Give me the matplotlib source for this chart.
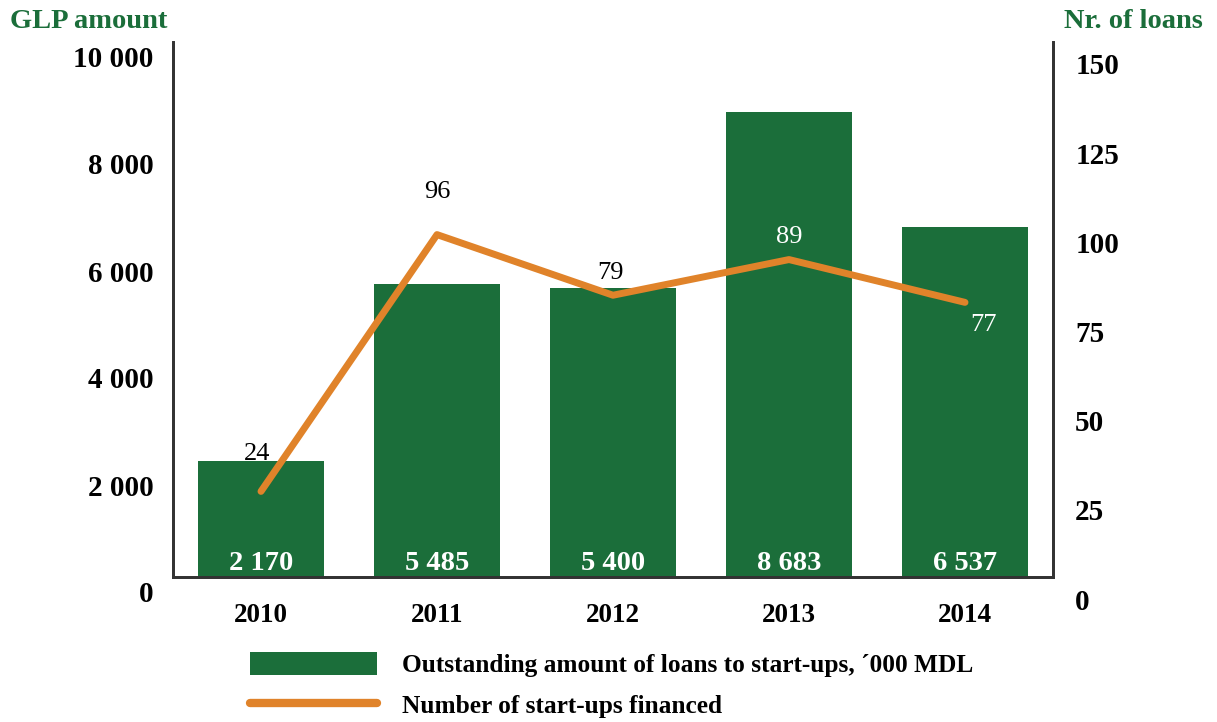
import matplotlib
matplotlib.use("Agg")
import matplotlib.pyplot as plt
from matplotlib.patches import Patch
from matplotlib.lines import Line2D
from matplotlib.transforms import ScaledTranslation

years = ["2010", "2011", "2012", "2013", "2014"]
glp_amount = [2170, 5485, 5400, 8683, 6537]
n_startups = [24, 96, 79, 89, 77]
left_ticks = [0, 2000, 4000, 6000, 8000, 10000]
left_tick_labels = ["0", "2 000", "4 000", "6 000", "8 000", "10 000"]
right_ticks = [0, 25, 50, 75, 100, 125, 150]
bar_labels = ["2 170", "5 485", "5 400", "8 683", "6 537"]

GREEN = "#1b6e3a"
ORANGE = "#e0832a"
FONT = "Liberation Serif"
plt.rcParams["font.family"] = [FONT, "DejaVu Serif"]

fig = plt.figure(figsize=(12.17, 7.22), dpi=100)
ax = fig.add_axes([173/1217, 1-577/722, (1053-173)/1217, (577-42)/722])
ax2 = ax.twinx()

x = list(range(len(years)))
ax.bar(x, glp_amount, width=0.72, color=GREEN, zorder=2)
ax.set_xlim(-0.5, 4.5)
ax.set_ylim(0, 10000)
ax2.set_ylim(0, 150)
ax2.plot(x, n_startups, color=ORANGE, lw=5, solid_capstyle="round", zorder=3)

ax.set_yticks(left_ticks)
ax.set_yticklabels(left_tick_labels)
ax2.set_yticks(right_ticks)
ax.set_xticks(x)
ax.set_xticklabels(years)

for a in (ax, ax2):
    for s in a.spines.values():
        s.set_color("#333333")
        s.set_linewidth(2)
    a.spines["top"].set_visible(False)
ax.tick_params(axis="y", length=0, pad=14, labelsize=21)
ax2.tick_params(axis="y", length=0, pad=16, labelsize=21)
ax.tick_params(axis="x", length=0, pad=19, labelsize=19.5)
for lab in ax.get_yticklabels() + ax2.get_yticklabels() + ax.get_xticklabels():
    lab.set_fontweight("bold")

# tick labels sit slightly below their tick positions in the reference
for t in ax.yaxis.get_major_ticks():
    t.label1.set_transform(t.label1.get_transform() +
                           ScaledTranslation(0, -0.15, fig.dpi_scale_trans))
for t in ax2.yaxis.get_major_ticks():
    t.label2.set_transform(t.label2.get_transform() +
                           ScaledTranslation(0, -0.22, fig.dpi_scale_trans))

for xi, lab in zip(x, bar_labels):
    ax.annotate(lab, (xi, 0), xytext=(0, 10), textcoords="offset points",
                ha="center", va="center", color="white", fontsize=20.5,
                fontweight="bold")

offsets = [(-3, 27), (0, 31), (-2, 16), (0, 16), (13, -16)]
colors = ["black", "black", "black", "white", "white"]
for xi, v, off, c in zip(x, n_startups, offsets, colors):
    ax2.annotate(str(v), (xi, v), xytext=off, textcoords="offset points",
                 ha="center", va="center", color=c, fontsize=19, zorder=4)

fig.text(10/1217, 1-22/722, "GLP amount", color=GREEN, fontsize=20.5,
         fontweight="bold", ha="left", va="center")
fig.text(1203/1217, 1-22/722, "Nr. of loans", color=GREEN, fontsize=20.5,
         fontweight="bold", ha="right", va="center")

handles = [Patch(facecolor=GREEN, edgecolor="none"),
           Line2D([0], [0], color=ORANGE, lw=6, solid_capstyle="round")]
labels = ["Outstanding amount of loans to start-ups, \u00b4000 MDL",
          "Number of start-ups financed"]
leg = fig.legend(handles, labels, loc="upper left",
                 bbox_to_anchor=(250/1217, 1-652/722), frameon=False,
                 borderpad=0, borderaxespad=0, handlelength=5.0,
                 handleheight=1.0, handletextpad=1.0, labelspacing=0.62,
                 prop={"family": FONT, "weight": "bold", "size": 18.3})

fig.savefig("out.png", dpi=100)
